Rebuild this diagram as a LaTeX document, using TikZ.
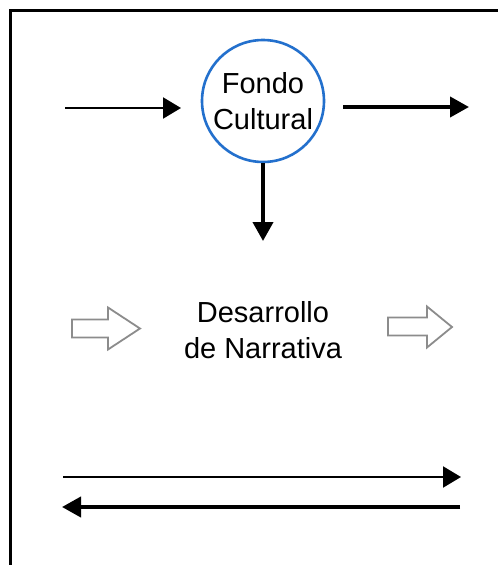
\documentclass[tikz,border=0pt]{standalone}
\usepackage{fontspec}
\setmainfont{Liberation Sans}
\usetikzlibrary{arrows.meta}
\definecolor{ringblue}{RGB}{35,112,205}
\definecolor{hollowgray}{RGB}{140,140,140}
\begin{document}
\begin{tikzpicture}[x=1pt,y=-1pt,
  txt/.style={font=\fontsize{29}{36}\selectfont, align=center, inner sep=0pt, text=black},
  thin arrow/.style={line width=2.2pt, -{Triangle[length=18pt,width=21pt]}},
  thick arrow/.style={line width=4pt, -{Triangle[length=19pt,width=20pt]}},
  hollow/.style={draw=hollowgray, line width=1.8pt, line join=miter, fill=white}
]
\useasboundingbox (0,0) rectangle (498,565);
\fill[white] (0,0) rectangle (498,565);
\begin{scope}
\clip (0,0) rectangle (498,565);
\draw[line width=3pt] (520,10) -- (10.5,10) -- (10.5,600);
\end{scope}

% central circle
\node[txt, circle, draw=ringblue, line width=2.6pt, minimum size=122pt] (fondo) at (263,101) {Fondo\\Cultural};

% narrative label
\node[txt] (narr) at (263,330) {Desarrollo\\de Narrativa};

% free ends
\coordinate (inA) at (65,108);
\coordinate (inB) at (181,108);
\coordinate (outA) at (343,107);
\coordinate (outB) at (469,107);
\coordinate (downA) at (263,163);
\coordinate (downB) at (263,241);
\coordinate (topA) at (63,477);
\coordinate (topB) at (461,477);
\coordinate (botA) at (460,507);
\coordinate (botB) at (62,507);

\draw[thin arrow] (inA) -- (inB);
\draw[thick arrow] (outA) -- (outB);
\draw[thick arrow] (downA) -- (downB);
\draw[thin arrow] (topA) -- (topB);
\draw[thick arrow] (botA) -- (botB);

% hollow arrows
\draw[hollow] (72,319.5) -- (108,319.5) -- (108,307.5) -- (140,328.5) -- (108,349.5) -- (108,337.5) -- (72,337.5) -- cycle;
\draw[hollow] (388,317.5) -- (427,317.5) -- (427,306.5) -- (452,327) -- (427,347.5) -- (427,335.5) -- (388,335.5) -- cycle;
\end{tikzpicture}
\end{document}
